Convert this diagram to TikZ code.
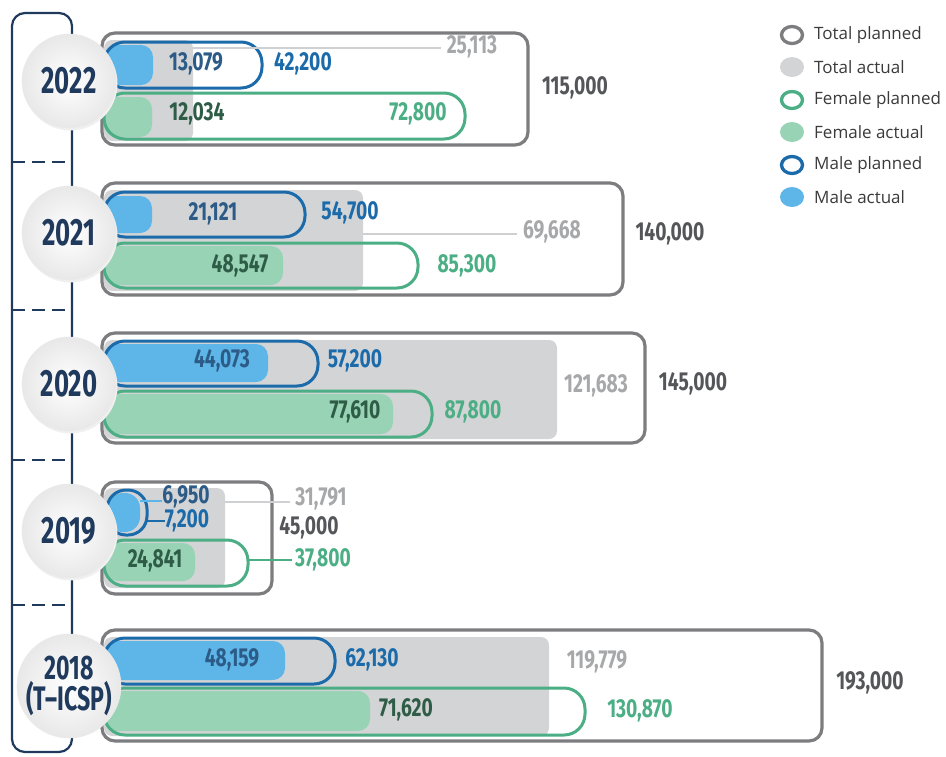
\documentclass[tikz,border=0pt]{standalone}
\usepackage{fontspec}
\setmainfont{Open Sans}
\newfontfamily\numfont{Fira Sans}[FakeStretch=0.74]
\newfontfamily\yearfont{Fira Sans}[FakeStretch=0.68]
\definecolor{navy}{HTML}{1F3A5C}
\definecolor{totline}{HTML}{7D7D7F}
\definecolor{totfillc}{HTML}{D3D4D6}
\definecolor{fline}{HTML}{4BAE84}
\definecolor{ffillc}{HTML}{98D3B5}
\definecolor{mline}{HTML}{1B6AAA}
\definecolor{mfillc}{HTML}{5DB5E8}
\definecolor{mactt}{HTML}{2B5B86}
\definecolor{factt}{HTML}{2E5C47}
\definecolor{tactt}{HTML}{A7A8AA}
\definecolor{tplant}{HTML}{55565A}
\definecolor{guide}{HTML}{CFD0D2}
\definecolor{legt}{HTML}{3A3A3A}
\tikzset{
  outerbox/.style={draw=totline, line width=3.2pt, rounded corners=13pt},
  totfill/.style={fill=totfillc, rounded corners=8pt},
  mfillst/.style={fill=mfillc, rounded corners=12pt},
  ffillst/.style={fill=ffillc, rounded corners=12pt},
  mplan/.style={draw=mline, line width=3pt, rounded corners=21pt},
  fplan/.style={draw=fline, line width=3pt, rounded corners=21pt},
  num/.style={inner sep=0pt, font=\numfont\bfseries\fontsize{26}{26}\selectfont},
  lmact/.style={num, text=mactt},
  lmplan/.style={num, text=mline},
  lfact/.style={num, text=factt},
  lfplan/.style={num, text=fline},
  ltact/.style={num, text=tactt},
  ltplan/.style={num, text=tplant},
  guideline/.style={draw=guide, line width=2.5pt},
  yearcirc/.style={circle, minimum size=94pt, inner sep=0pt, draw=black!8, line width=0.6pt,
    inner color=white, outer color=black!9, text=navy,
    font=\yearfont\bfseries\fontsize{38}{30}\selectfont, align=center},
  yearshadow/.style={fill=black!6},
  legtext/.style={anchor=west, inner sep=0pt, text=legt, font=\fontsize{17}{17}\selectfont},
  legring/.style={line width=3.3pt},
}
\begin{document}
\begin{tikzpicture}[x=1pt,y=-1pt]
\useasboundingbox (0,0) rectangle (946,756);
% bracket
\draw[navy, line width=2.2pt, rounded corners=13pt] (12,13) rectangle (72,752);
\foreach \yy in {162,310,460,605}
  \draw[navy, line width=2.2pt, dash pattern=on 13pt off 7pt] (12,\yy) -- (72,\yy);

% ===== 2022 =====
\draw[outerbox] (102,33) rectangle (528,145);
\fill[totfill] (104,40) rectangle (193,141);
\fill[mfillst] (104,45) rectangle (153,85);
\fill[ffillst] (104,97) rectangle (152,137);
\draw[mplan] (104,42) rectangle (262,88);
\draw[fplan] (104,93) rectangle (465,139);
\node[lmact] (m22a) at (196,64) {13,079};
\node[lmplan] (m22p) at (303,64) {42,200};
\node[ltact] (t22a) at (472,47) {25,113};
\coordinate (g22) at (193,48);
\draw[guideline] (g22) -- ([xshift=-6pt]g22 -| t22a.west);
\node[lfact] (f22a) at (197,114) {12,034};
\node[lfplan] (f22p) at (418,114) {72,800};
\node[ltplan] (T22) at (575,88) {115,000};

% ===== 2021 =====
\draw[outerbox] (102,183) rectangle (623,295);
\fill[totfill] (104,190) rectangle (363,291);
\fill[mfillst] (104,196) rectangle (152,233);
\fill[ffillst] (104,246) rectangle (283,285);
\draw[mplan] (104,192) rectangle (305,237);
\draw[fplan] (104,243) rectangle (418,288);
\node[lmact] (m21a) at (213,214) {21,121};
\node[lmplan] (m21p) at (350,213) {54,700};
\node[ltact] (t21a) at (552,232) {69,668};
\coordinate (g21) at (363,234);
\draw[guideline] (g21) -- ([xshift=-6pt]g21 -| t21a.west);
\node[lfact] (f21a) at (240,266) {48,547};
\node[lfplan] (f21p) at (467,266) {85,300};
\node[ltplan] (T21) at (670,234) {140,000};

% ===== 2020 =====
\draw[outerbox] (102,333) rectangle (645,443);
\fill[totfill] (104,340) rectangle (557,439);
\fill[mfillst] (104,344) rectangle (268,382);
\fill[ffillst] (104,394) rectangle (393,434);
\draw[mplan] (104,341) rectangle (318,386);
\draw[fplan] (104,391) rectangle (432,437);
\node[lmact] (m20a) at (222,361) {44,073};
\node[lmplan] (m20p) at (355,361) {57,200};
\node[lfact] (f20a) at (355,412) {77,610};
\node[lfplan] (f20p) at (473,412) {87,800};
\node[ltact] (t20a) at (596,386) {121,683};
\node[ltplan] (T20) at (693,384) {145,000};

% ===== 2019 =====
\draw[outerbox] (102,482) rectangle (272,594);
\fill[totfill] (104,488) rectangle (225,588);
\fill[fill=mfillc, rounded corners=15pt] (108,493) rectangle (140,532);
\fill[ffillst] (106,543) rectangle (195,581);
\draw[mline, line width=3pt, rounded corners=19pt] (107,490) rectangle (147,535);
\draw[fplan] (104,540) rectangle (248,586);
\node[lmact] (m19a) at (186,497) {6,950};
\node[lmplan] (m19p) at (187,521) {7,200};
\coordinate (g19a) at (140,501);
\coordinate (g19b) at (147,521);
\draw[mfillc, line width=2.5pt] (g19a) -- (g19a -| m19a.west);
\draw[mline, line width=2.5pt] (g19b) -- (g19b -| m19p.west);
\node[ltact] (t19a) at (321,499) {31,791};
\coordinate (g19c) at (225,502);
\draw[guideline] (g19c) -- ([xshift=-5pt]g19c -| t19a.west);
\node[ltplan] (T19) at (309,528) {45,000};
\node[lfact] (f19a) at (155,561) {24,841};
\node[lfplan] (f19p) at (323,560) {37,800};
\coordinate (g19d) at (248,560);
\draw[fline, line width=2.5pt] (g19d) -- ([xshift=-3pt]g19d -| f19p.west);

% ===== 2018 =====
\draw[outerbox] (102,630) rectangle (822,741);
\fill[totfill] (104,637) rectangle (549,736);
\fill[mfillst] (104,641) rectangle (285,680);
\fill[ffillst] (104,691) rectangle (370,731);
\draw[mplan] (104,638) rectangle (335,684);
\draw[fplan] (104,688) rectangle (585,735);
\node[lmact] (m18a) at (232,660) {48,159};
\node[lmplan] (m18p) at (372,660) {62,130};
\node[ltact] (t18a) at (597,662) {119,779};
\node[lfact] (f18a) at (406,710) {71,620};
\node[lfplan] (f18p) at (640,711) {130,870};
\node[ltplan] (T18) at (870,683) {193,000};

% ===== year circles =====
\foreach \cy in {81,233,384,531,686}
  \fill[yearshadow] (70.5,\cy+2.5) circle (47pt);
\node[yearcirc] (y22) at (69,81) {2022};
\node[yearcirc] (y21) at (69,233) {2021};
\node[yearcirc] (y20) at (69,384) {2020};
\node[yearcirc] (y19) at (69,531) {2019};
\node[yearcirc, font=\yearfont\bfseries\fontsize{34}{29}\selectfont] (y18) at (69,686) {2018\\(T–ICSP)};

% ===== legend =====
\draw[totline, legring] (792,35) ellipse (10.5pt and 8.5pt);
\fill[totfillc] (792,67) ellipse (12pt and 10pt);
\draw[fline, legring] (792,100) ellipse (10.5pt and 8.5pt);
\fill[ffillc] (792,132) ellipse (12pt and 10pt);
\draw[mline, legring] (792,165) ellipse (10.5pt and 8.5pt);
\fill[mfillc] (792,197) ellipse (12pt and 10pt);
\node[legtext] (l1) at (814,35) {Total planned};
\node[legtext] (l2) at (814,67) {Total actual};
\node[legtext] (l3) at (814,100) {Female planned};
\node[legtext] (l4) at (814,132) {Female actual};
\node[legtext] (l5) at (814,165) {Male planned};
\node[legtext] (l6) at (814,197) {Male actual};
\end{tikzpicture}
\end{document}
